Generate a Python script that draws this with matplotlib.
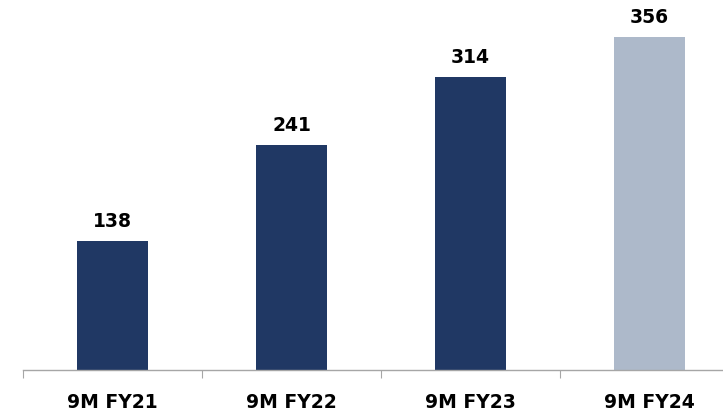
import matplotlib.pyplot as plt

# data
categories = ['9M FY21', '9M FY22', '9M FY23', '9M FY24']
values = [138, 241, 314, 356]
colors = ['#203864', '#203864', '#203864', '#ADB9CA']

plt.rcParams['font.family'] = ['DejaVu Sans']

fig = plt.figure(figsize=(7.23, 4.14), dpi=100)
ax = fig.add_axes([23 / 723, 43 / 414, 716 / 723, 371 / 414])

x = range(len(categories))
bars = ax.bar(x, values, width=0.4, color=colors)

for xi, v in zip(x, values):
    ax.annotate(str(v), (xi, v), xytext=(0, 10.8), textcoords='offset points',
                ha='center', va='baseline', fontsize=13.5, fontweight='bold',
                color='black')

ax.set_xlim(-0.5, 3.5)
ax.set_ylim(0, 397)

# axis styling
for s in ['top', 'right', 'left']:
    ax.spines[s].set_visible(False)
ax.spines['bottom'].set_color('#A6A6A6')
ax.spines['bottom'].set_linewidth(1)
ax.set_yticks([])

ax.set_xticks([-0.5, 0.5, 1.5, 2.5, 3.5])
ax.set_xticklabels([])
ax.tick_params(axis='x', length=6, color='#A6A6A6', direction='out')
ax.set_xticks(list(x), minor=True)
ax.set_xticklabels(categories, minor=True, fontsize=13.5, fontweight='bold')
ax.tick_params(axis='x', which='minor', length=0, pad=16)

plt.savefig('out.png', dpi=100)
